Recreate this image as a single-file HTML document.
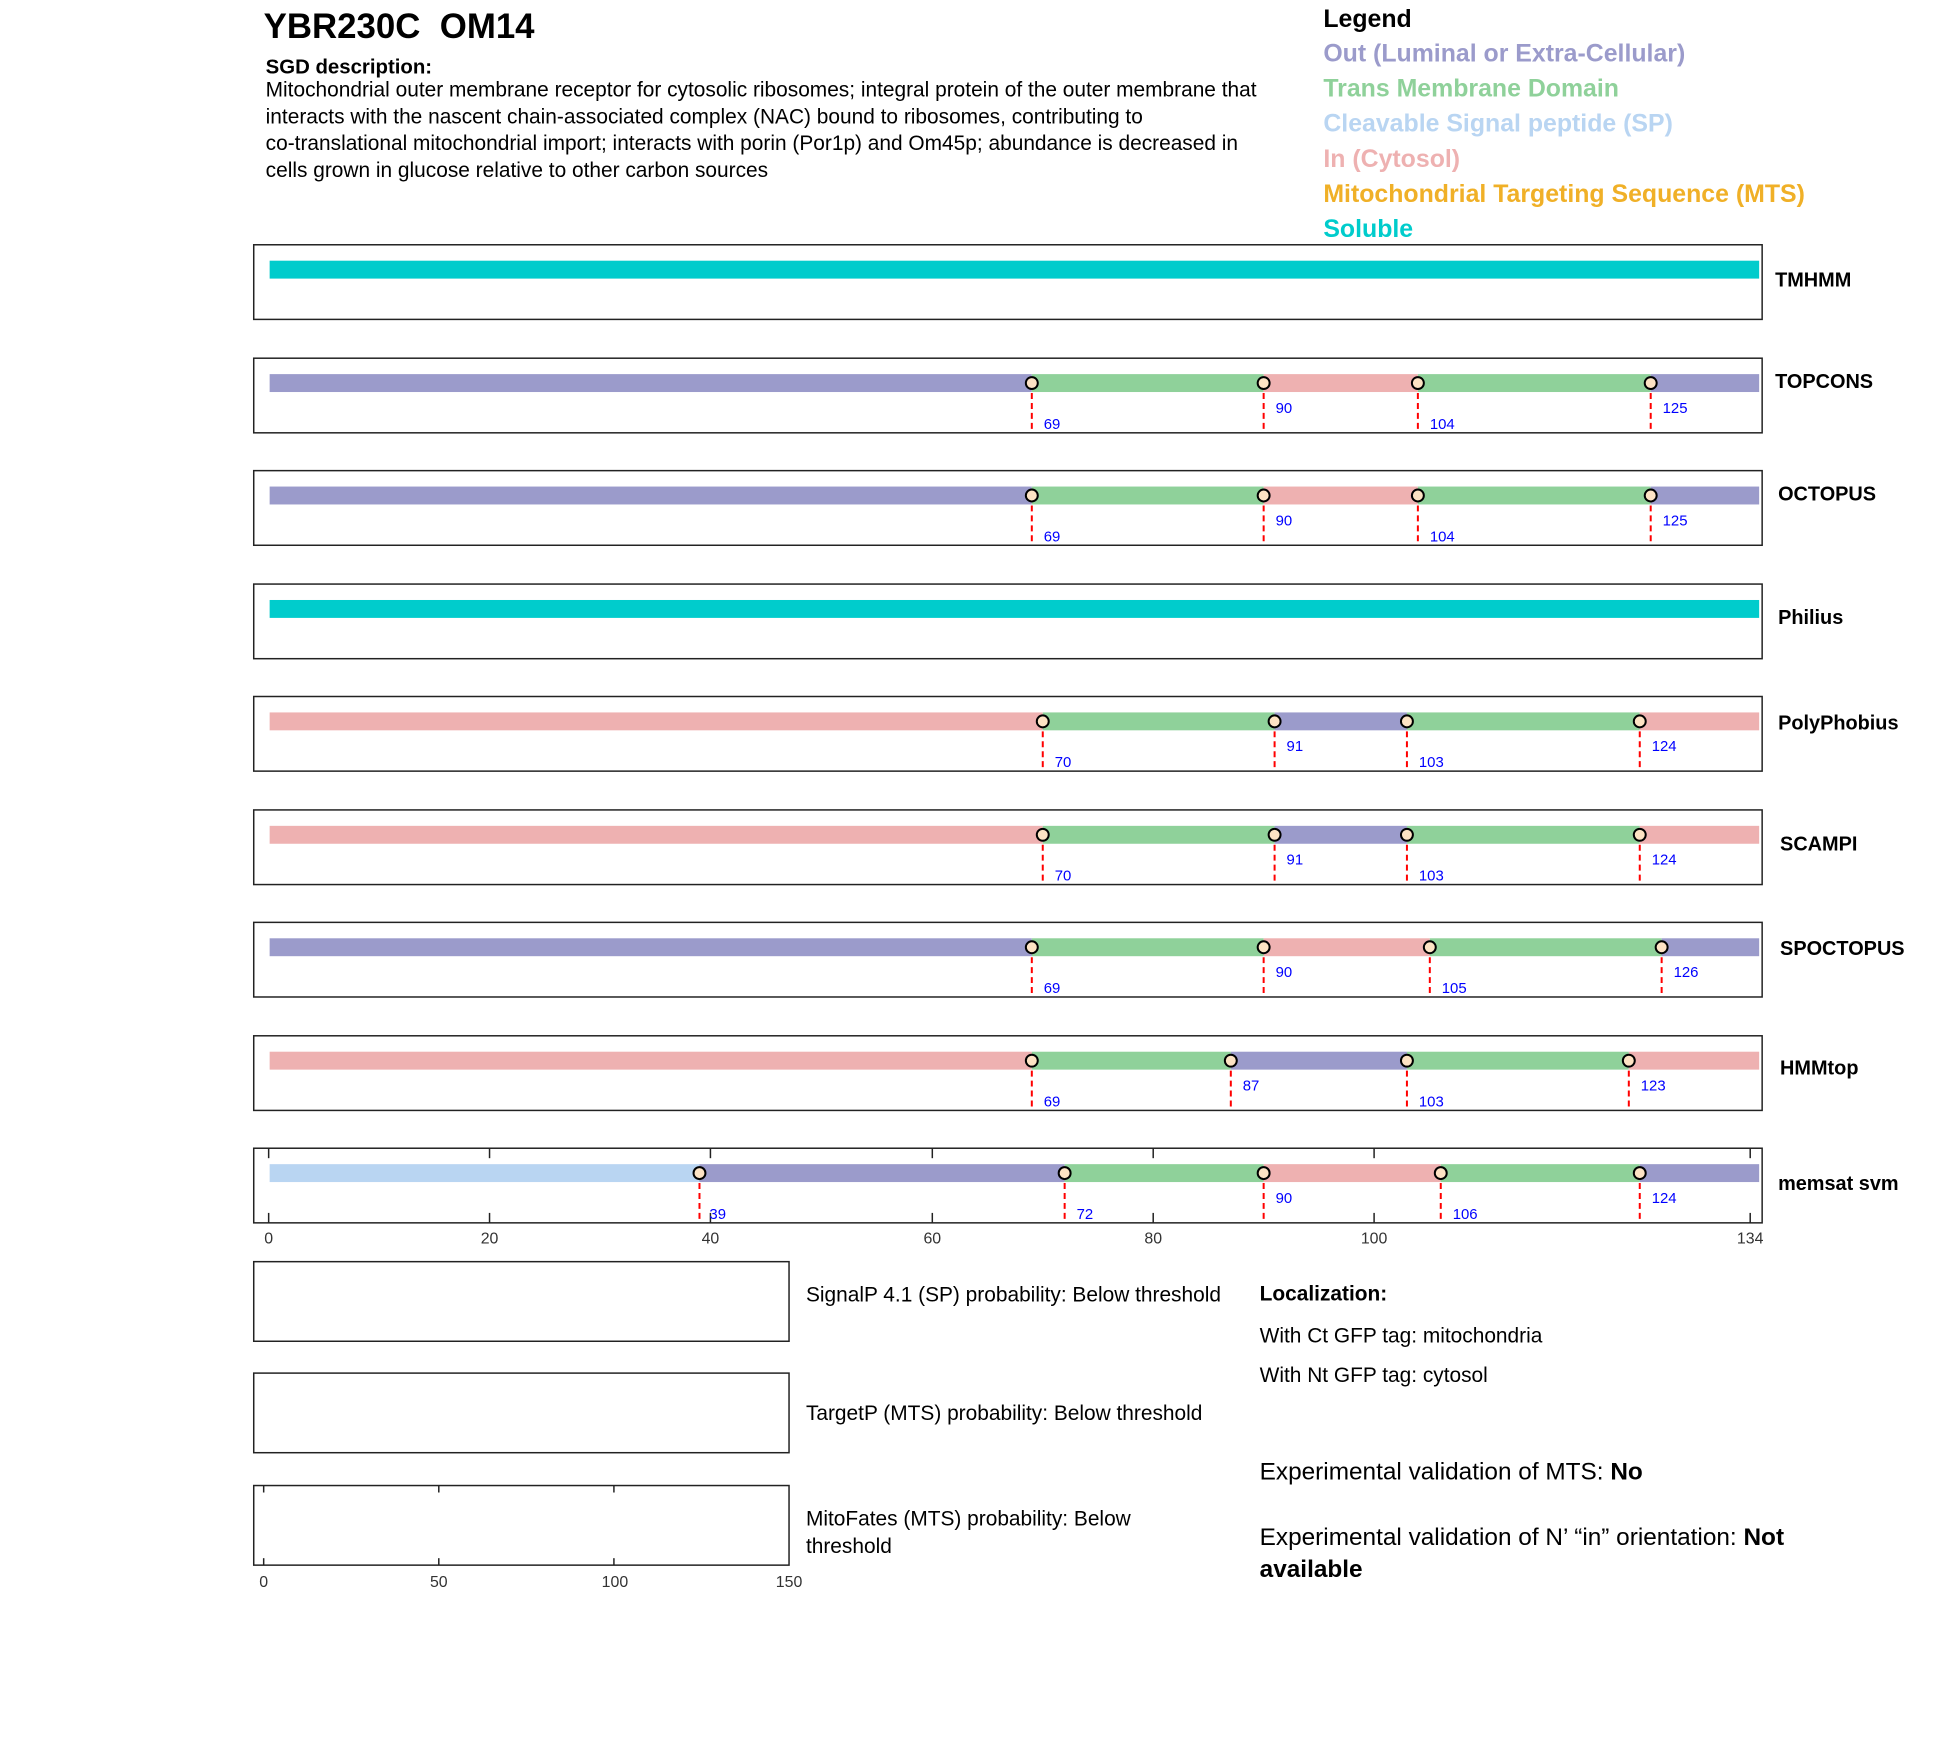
<!DOCTYPE html>
<html><head><meta charset="utf-8"><style>
html,body{margin:0;padding:0;background:#fff}
svg{display:block}
text{font-family:"Liberation Sans",Arial,sans-serif}
.lg{font-family:"Liberation Sans Narrow","Liberation Sans",sans-serif;font-weight:bold;font-size:25px}
.rl{font-weight:bold;font-size:20px;dominant-baseline:central}
.nb{fill:#0000ff;font-size:15px}
.tk{fill:#333;font-size:16px;text-anchor:middle}
.dl{stroke:#ff0000;stroke-width:2;stroke-dasharray:6,4}
.mk{fill:#fde3c4;stroke:#000;stroke-width:2}
.bx{fill:none;stroke:#222;stroke-width:1.5}
</style></head><body>
<svg width="1950" height="1761" xmlns="http://www.w3.org/2000/svg">
<g transform="scale(0.995)">
<text x="265" y="38" font-size="35" font-weight="bold" xml:space="preserve">YBR230C  OM14</text>
<text x="267" y="74" font-size="20.5" font-weight="bold">SGD description:</text>
<g font-size="21">
<text x="267" y="97">Mitochondrial outer membrane receptor for cytosolic ribosomes; integral protein of the outer membrane that</text>
<text x="267" y="124">interacts with the nascent chain-associated complex (NAC) bound to ribosomes, contributing to</text>
<text x="267" y="151">co-translational mitochondrial import; interacts with porin (Por1p) and Om45p; abundance is decreased in</text>
<text x="267" y="178">cells grown in glucose relative to other carbon sources</text>
</g>
<g class="lg">
<text x="1330" y="27" fill="#000">Legend</text>
<text x="1330" y="62" fill="#9b9bcb">Out (Luminal or Extra-Cellular)</text>
<text x="1330" y="97" fill="#8fd19a">Trans Membrane Domain</text>
<text x="1330" y="132" fill="#b9d5f2">Cleavable Signal peptide (SP)</text>
<text x="1330" y="168" fill="#eeb1b1">In (Cytosol)</text>
<text x="1330" y="203" fill="#f0b027">Mitochondrial Targeting Sequence (MTS)</text>
<text x="1330" y="238" fill="#00cccc">Soluble</text>
</g>

<rect class="bx" x="255" y="246" width="1516" height="75"/>
<rect x="271" y="262" width="1497" height="18" fill="#00cccc"/>
<text class="rl" x="1784" y="282">TMHMM</text>

<g transform="translate(0,360)">
<rect class="bx" x="255" y="0" width="1516" height="75"/>
<rect x="271" y="16" width="766" height="18" fill="#9b9bcb"/>
<rect x="1037" y="16" width="233" height="18" fill="#8fd19a"/>
<rect x="1270" y="16" width="155" height="18" fill="#eeb1b1"/>
<rect x="1425" y="16" width="234" height="18" fill="#8fd19a"/>
<rect x="1659" y="16" width="109" height="18" fill="#9b9bcb"/>
<line class="dl" x1="1037" y1="25" x2="1037" y2="75"/><line class="dl" x1="1270" y1="25" x2="1270" y2="75"/><line class="dl" x1="1425" y1="25" x2="1425" y2="75"/><line class="dl" x1="1659" y1="25" x2="1659" y2="75"/>
<circle class="mk" cx="1037" cy="25" r="6"/><circle class="mk" cx="1270" cy="25" r="6"/><circle class="mk" cx="1425" cy="25" r="6"/><circle class="mk" cx="1659" cy="25" r="6"/>
<text class="nb" x="1049" y="71">69</text><text class="nb" x="1282" y="55">90</text><text class="nb" x="1437" y="71">104</text><text class="nb" x="1671" y="55">125</text>
<text class="rl" x="1784" y="24">TOPCONS</text>
</g>

<g transform="translate(0,473)">
<rect class="bx" x="255" y="0" width="1516" height="75"/>
<rect x="271" y="16" width="766" height="18" fill="#9b9bcb"/>
<rect x="1037" y="16" width="233" height="18" fill="#8fd19a"/>
<rect x="1270" y="16" width="155" height="18" fill="#eeb1b1"/>
<rect x="1425" y="16" width="234" height="18" fill="#8fd19a"/>
<rect x="1659" y="16" width="109" height="18" fill="#9b9bcb"/>
<line class="dl" x1="1037" y1="25" x2="1037" y2="75"/><line class="dl" x1="1270" y1="25" x2="1270" y2="75"/><line class="dl" x1="1425" y1="25" x2="1425" y2="75"/><line class="dl" x1="1659" y1="25" x2="1659" y2="75"/>
<circle class="mk" cx="1037" cy="25" r="6"/><circle class="mk" cx="1270" cy="25" r="6"/><circle class="mk" cx="1425" cy="25" r="6"/><circle class="mk" cx="1659" cy="25" r="6"/>
<text class="nb" x="1049" y="71">69</text><text class="nb" x="1282" y="55">90</text><text class="nb" x="1437" y="71">104</text><text class="nb" x="1671" y="55">125</text>
<text class="rl" x="1787" y="24">OCTOPUS</text>
</g>

<g transform="translate(0,587)">
<rect class="bx" x="255" y="0" width="1516" height="75"/>
<rect x="271" y="16" width="1497" height="18" fill="#00cccc"/>
<text class="rl" x="1787" y="34">Philius</text>
</g>

<g transform="translate(0,700)">
<rect class="bx" x="255" y="0" width="1516" height="75"/>
<rect x="271" y="16" width="777" height="18" fill="#eeb1b1"/>
<rect x="1048" y="16" width="233" height="18" fill="#8fd19a"/>
<rect x="1281" y="16" width="133" height="18" fill="#9b9bcb"/>
<rect x="1414" y="16" width="234" height="18" fill="#8fd19a"/>
<rect x="1648" y="16" width="120" height="18" fill="#eeb1b1"/>
<line class="dl" x1="1048" y1="25" x2="1048" y2="75"/><line class="dl" x1="1281" y1="25" x2="1281" y2="75"/><line class="dl" x1="1414" y1="25" x2="1414" y2="75"/><line class="dl" x1="1648" y1="25" x2="1648" y2="75"/>
<circle class="mk" cx="1048" cy="25" r="6"/><circle class="mk" cx="1281" cy="25" r="6"/><circle class="mk" cx="1414" cy="25" r="6"/><circle class="mk" cx="1648" cy="25" r="6"/>
<text class="nb" x="1060" y="71">70</text><text class="nb" x="1293" y="55">91</text><text class="nb" x="1426" y="71">103</text><text class="nb" x="1660" y="55">124</text>
<text class="rl" x="1787" y="27">PolyPhobius</text>
</g>

<g transform="translate(0,814)">
<rect class="bx" x="255" y="0" width="1516" height="75"/>
<rect x="271" y="16" width="777" height="18" fill="#eeb1b1"/>
<rect x="1048" y="16" width="233" height="18" fill="#8fd19a"/>
<rect x="1281" y="16" width="133" height="18" fill="#9b9bcb"/>
<rect x="1414" y="16" width="234" height="18" fill="#8fd19a"/>
<rect x="1648" y="16" width="120" height="18" fill="#eeb1b1"/>
<line class="dl" x1="1048" y1="25" x2="1048" y2="75"/><line class="dl" x1="1281" y1="25" x2="1281" y2="75"/><line class="dl" x1="1414" y1="25" x2="1414" y2="75"/><line class="dl" x1="1648" y1="25" x2="1648" y2="75"/>
<circle class="mk" cx="1048" cy="25" r="6"/><circle class="mk" cx="1281" cy="25" r="6"/><circle class="mk" cx="1414" cy="25" r="6"/><circle class="mk" cx="1648" cy="25" r="6"/>
<text class="nb" x="1060" y="71">70</text><text class="nb" x="1293" y="55">91</text><text class="nb" x="1426" y="71">103</text><text class="nb" x="1660" y="55">124</text>
<text class="rl" x="1789" y="35">SCAMPI</text>
</g>

<g transform="translate(0,927)">
<rect class="bx" x="255" y="0" width="1516" height="75"/>
<rect x="271" y="16" width="766" height="18" fill="#9b9bcb"/>
<rect x="1037" y="16" width="233" height="18" fill="#8fd19a"/>
<rect x="1270" y="16" width="167" height="18" fill="#eeb1b1"/>
<rect x="1437" y="16" width="233" height="18" fill="#8fd19a"/>
<rect x="1670" y="16" width="98" height="18" fill="#9b9bcb"/>
<line class="dl" x1="1037" y1="25" x2="1037" y2="75"/><line class="dl" x1="1270" y1="25" x2="1270" y2="75"/><line class="dl" x1="1437" y1="25" x2="1437" y2="75"/><line class="dl" x1="1670" y1="25" x2="1670" y2="75"/>
<circle class="mk" cx="1037" cy="25" r="6"/><circle class="mk" cx="1270" cy="25" r="6"/><circle class="mk" cx="1437" cy="25" r="6"/><circle class="mk" cx="1670" cy="25" r="6"/>
<text class="nb" x="1049" y="71">69</text><text class="nb" x="1282" y="55">90</text><text class="nb" x="1449" y="71">105</text><text class="nb" x="1682" y="55">126</text>
<text class="rl" x="1789" y="27">SPOCTOPUS</text>
</g>

<g transform="translate(0,1041)">
<rect class="bx" x="255" y="0" width="1516" height="75"/>
<rect x="271" y="16" width="766" height="18" fill="#eeb1b1"/>
<rect x="1037" y="16" width="200" height="18" fill="#8fd19a"/>
<rect x="1237" y="16" width="177" height="18" fill="#9b9bcb"/>
<rect x="1414" y="16" width="223" height="18" fill="#8fd19a"/>
<rect x="1637" y="16" width="131" height="18" fill="#eeb1b1"/>
<line class="dl" x1="1037" y1="25" x2="1037" y2="75"/><line class="dl" x1="1237" y1="25" x2="1237" y2="75"/><line class="dl" x1="1414" y1="25" x2="1414" y2="75"/><line class="dl" x1="1637" y1="25" x2="1637" y2="75"/>
<circle class="mk" cx="1037" cy="25" r="6"/><circle class="mk" cx="1237" cy="25" r="6"/><circle class="mk" cx="1414" cy="25" r="6"/><circle class="mk" cx="1637" cy="25" r="6"/>
<text class="nb" x="1049" y="71">69</text><text class="nb" x="1249" y="55">87</text><text class="nb" x="1426" y="71">103</text><text class="nb" x="1649" y="55">123</text>
<text class="rl" x="1789" y="33">HMMtop</text>
</g>

<g transform="translate(0,1154)">
<rect class="bx" x="255" y="0" width="1516" height="75"/>
<g stroke="#222" stroke-width="1.5">
<line x1="270" y1="0" x2="270" y2="10"/><line x1="270" y1="65" x2="270" y2="75"/>
<line x1="492" y1="0" x2="492" y2="10"/><line x1="492" y1="65" x2="492" y2="75"/>
<line x1="714" y1="0" x2="714" y2="10"/><line x1="714" y1="65" x2="714" y2="75"/>
<line x1="937" y1="0" x2="937" y2="10"/><line x1="937" y1="65" x2="937" y2="75"/>
<line x1="1159" y1="0" x2="1159" y2="10"/><line x1="1159" y1="65" x2="1159" y2="75"/>
<line x1="1381" y1="0" x2="1381" y2="10"/><line x1="1381" y1="65" x2="1381" y2="75"/>
<line x1="1759" y1="0" x2="1759" y2="10"/><line x1="1759" y1="65" x2="1759" y2="75"/>
</g>
<rect x="271" y="16" width="432" height="18" fill="#b9d5f2"/>
<rect x="703" y="16" width="367" height="18" fill="#9b9bcb"/>
<rect x="1070" y="16" width="200" height="18" fill="#8fd19a"/>
<rect x="1270" y="16" width="178" height="18" fill="#eeb1b1"/>
<rect x="1448" y="16" width="200" height="18" fill="#8fd19a"/>
<rect x="1648" y="16" width="120" height="18" fill="#9b9bcb"/>
<line class="dl" x1="703" y1="25" x2="703" y2="75"/><line class="dl" x1="1070" y1="25" x2="1070" y2="75"/><line class="dl" x1="1270" y1="25" x2="1270" y2="75"/><line class="dl" x1="1448" y1="25" x2="1448" y2="75"/><line class="dl" x1="1648" y1="25" x2="1648" y2="75"/>
<circle class="mk" cx="703" cy="25" r="6"/><circle class="mk" cx="1070" cy="25" r="6"/><circle class="mk" cx="1270" cy="25" r="6"/><circle class="mk" cx="1448" cy="25" r="6"/><circle class="mk" cx="1648" cy="25" r="6"/>
<text class="nb" x="713" y="71">39</text><text class="nb" x="1082" y="71">72</text><text class="nb" x="1282" y="55">90</text><text class="nb" x="1460" y="71">106</text><text class="nb" x="1660" y="55">124</text>
<text class="rl" x="1787" y="36">memsat svm</text>
<text class="tk" x="270" y="96">0</text><text class="tk" x="492" y="96">20</text><text class="tk" x="714" y="96">40</text><text class="tk" x="937" y="96">60</text><text class="tk" x="1159" y="96">80</text><text class="tk" x="1381" y="96">100</text><text class="tk" x="1759" y="96">134</text>
</g>

<rect class="bx" x="255" y="1268" width="538" height="80"/>
<rect class="bx" x="255" y="1380" width="538" height="80"/>
<rect class="bx" x="255" y="1493" width="538" height="80"/>
<g stroke="#222" stroke-width="1.5">
<line x1="265" y1="1493" x2="265" y2="1500"/><line x1="265" y1="1566" x2="265" y2="1573"/>
<line x1="441" y1="1493" x2="441" y2="1500"/><line x1="441" y1="1566" x2="441" y2="1573"/>
<line x1="617" y1="1493" x2="617" y2="1500"/><line x1="617" y1="1566" x2="617" y2="1573"/>
</g>
<text class="tk" x="265" y="1595">0</text><text class="tk" x="441" y="1595">50</text><text class="tk" x="618" y="1595">100</text><text class="tk" x="793" y="1595">150</text>
<g font-size="21">
<text x="810" y="1308">SignalP 4.1 (SP) probability: Below threshold</text>
<text x="810" y="1427">TargetP (MTS) probability: Below threshold</text>
<text x="810" y="1533">MitoFates (MTS) probability: Below</text>
<text x="810" y="1561">threshold</text>
<text x="1266" y="1307" font-weight="bold">Localization:</text>
<text x="1266" y="1349">With Ct GFP tag: mitochondria</text>
<text x="1266" y="1389">With Nt GFP tag: cytosol</text>
</g>
<g font-size="24.5">
<text x="1266" y="1487">Experimental validation of MTS: <tspan font-weight="bold">No</tspan></text>
<text x="1266" y="1553">Experimental validation of N’ “in” orientation: <tspan font-weight="bold">Not</tspan></text>
<text x="1266" y="1585" font-weight="bold">available</text>
</g>
</g>
</svg>
</body></html>
